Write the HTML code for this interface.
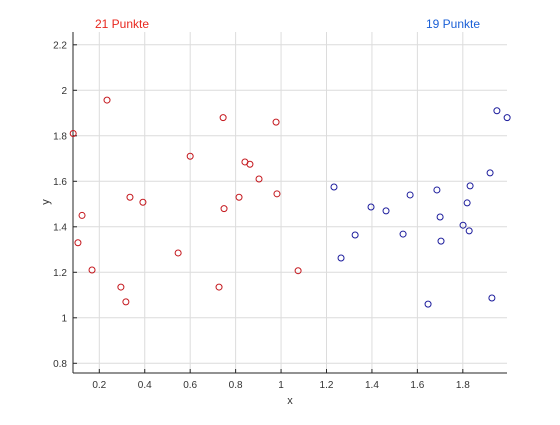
<!DOCTYPE html>
<html><head><meta charset="utf-8"><style>
body{margin:0;background:#fff;width:560px;height:420px;overflow:hidden}
svg{font-family:"Liberation Sans",sans-serif}
</style></head><body>
<svg id="chart" width="560" height="420" viewBox="0 0 560 420">
<g id="grid"></g>
<g id="axes"></g>
<g id="pts"></g>
<text x="95" y="28" font-size="12" fill="#e8271e">21 Punkte</text>
<text x="426" y="28" font-size="12" fill="#1a5fd6">19 Punkte</text>
<text x="290" y="404" font-size="11" fill="#333" text-anchor="middle">x</text>
<text x="49" y="202" font-size="11" fill="#333" text-anchor="middle" transform="rotate(-90 49 202)">y</text>
</svg>
<script>
const redX=[0.085,0.106,0.124,0.168,0.234,0.295,0.317,0.335,0.392,0.547,0.6,0.727,0.745,0.749,0.815,0.841,0.863,0.903,0.978,0.982,1.075];
const redY=[1.81,1.33,1.45,1.21,1.957,1.135,1.07,1.53,1.508,1.285,1.71,1.135,1.88,1.48,1.53,1.685,1.675,1.61,1.86,1.545,1.207];
const blueX=[1.233,1.264,1.326,1.396,1.462,1.537,1.568,1.647,1.686,1.7,1.704,1.801,1.819,1.828,1.832,1.92,1.928,1.95,1.995];
const blueY=[1.575,1.263,1.364,1.487,1.47,1.368,1.54,1.06,1.562,1.443,1.337,1.407,1.505,1.382,1.58,1.637,1.087,1.91,1.88];
const xTicks=[0.2,0.4,0.6,0.8,1,1.2,1.4,1.6,1.8];
const yTicks=[0.8,1,1.2,1.4,1.6,1.8,2,2.2];
const L=73,R=507,T=32,B=373;
const sx=v=>99.3+(v-0.2)*227.2;
const sy=v=>90.3-(v-2)*227.5;
const NS="http://www.w3.org/2000/svg";
function mk(tag,attrs,parent){const e=document.createElementNS(NS,tag);for(const k in attrs)e.setAttribute(k,attrs[k]);parent.appendChild(e);return e;}
const grid=document.getElementById('grid'),axes=document.getElementById('axes'),pts=document.getElementById('pts');
xTicks.forEach(t=>{const x=sx(t);
 const g=mk('line',{x1:x,x2:x,y1:T,y2:B,stroke:'#dcdcdc','stroke-width':1},grid);
 
 
 const tk=mk('line',{x1:x,x2:x,y1:B,y2:B-4,stroke:'#262626'},axes);
 
 
 const tx=mk('text',{x:x,y:B+15,'font-size':10,fill:'#333','text-anchor':'middle'},axes);tx.textContent=t;
 
 
});
yTicks.forEach(t=>{const y=sy(t);
 const g=mk('line',{x1:L,x2:R,y1:y,y2:y,stroke:'#dcdcdc','stroke-width':1},grid);
 
 
 const tk=mk('line',{x1:L,x2:L+4,y1:y,y2:y,stroke:'#262626'},axes);
 
 
 const tx=mk('text',{x:L-6,y:y+3.5,'font-size':10,fill:'#333','text-anchor':'end'},axes);tx.textContent=t;
 
 
});
const xa=mk('line',{x1:L,x2:R,y1:B,y2:B,stroke:'#262626'},axes);


const ya=mk('line',{x1:L,x2:L,y1:T,y2:B,stroke:'#262626'},axes);


redX.forEach((v,i)=>{const c=mk('circle',{cx:sx(v),cy:sy(redY[i]),r:3,fill:'none',stroke:'#c4161c','stroke-width':1},pts);
 
 });
blueX.forEach((v,i)=>{const c=mk('circle',{cx:sx(v),cy:sy(blueY[i]),r:3,fill:'none',stroke:'#1c1c9c','stroke-width':1},pts);
 
 });
</script>
</body></html>
